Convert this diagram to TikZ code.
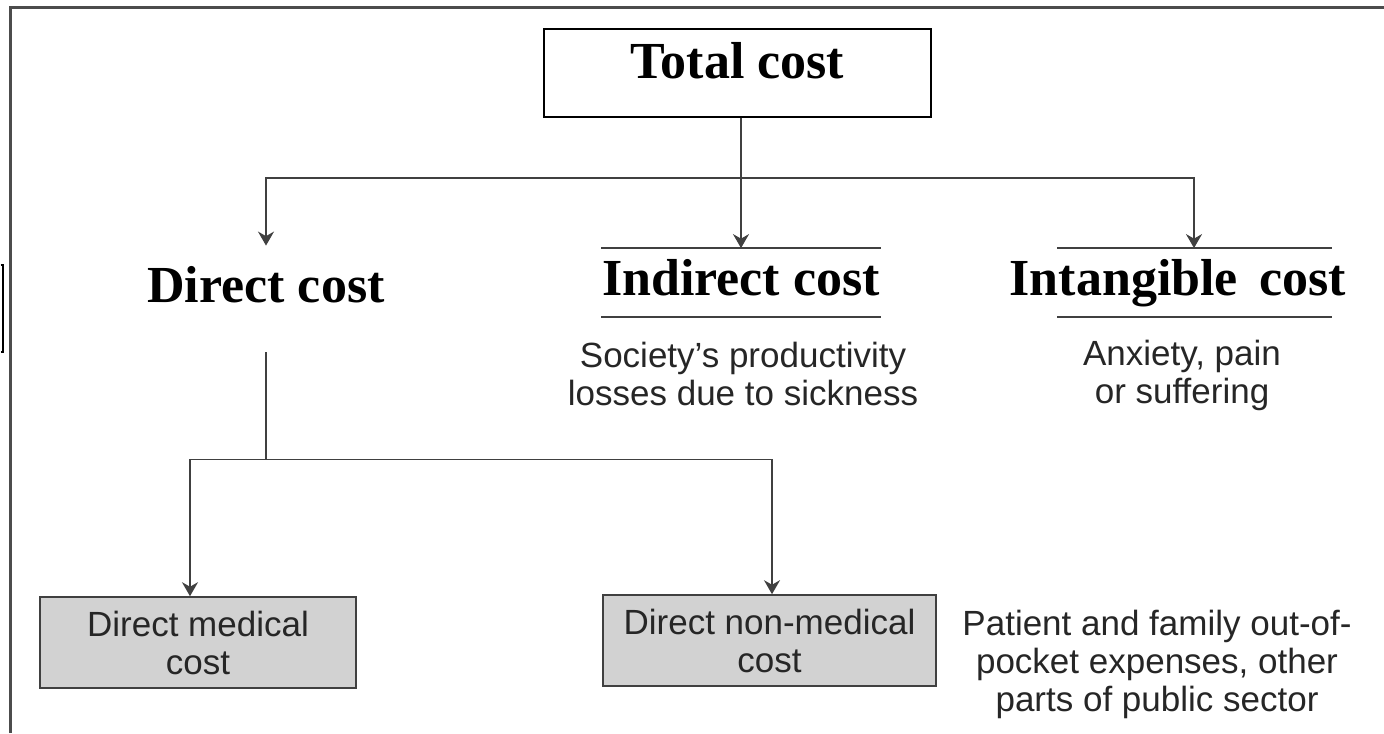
\documentclass[tikz,border=0pt]{standalone}
\usepackage{fontspec}
\setmainfont{Liberation Serif}
\setsansfont{Liberation Sans}
\usepackage{tikz}
\usetikzlibrary{shapes,arrows,arrows.meta}
\tikzstyle{totalbox} = [rectangle, draw=black, line width=0.6pt, minimum width=193.5pt, minimum height=44pt, inner sep=0pt, font=\fontsize{26}{30}\selectfont\bfseries, text depth=13pt]
\tikzstyle{heading} = [rectangle, minimum height=34pt, inner sep=0pt, font=\fontsize{26}{30}\selectfont\bfseries, text height=18pt, text depth=5pt]
\tikzstyle{desc} = [align=center, inner sep=0pt, text=black!85, font=\sffamily\fontsize{17.5}{19}\selectfont]
\tikzstyle{costbox} = [rectangle, draw=black!75, line width=0.8pt, fill=gray!35, minimum height=45.5pt, inner sep=0pt, align=center, text=black!85, font=\sffamily\fontsize{17.5}{19}\selectfont]
\tikzstyle{line} = [line width=0.9pt, draw=black!75]
\tikzstyle{arrow} = [line width=0.9pt, draw=black!75, -{Stealth[length=7pt,width=8pt]}]
\tikzstyle{frame} = [line width=1.5pt, draw=gray!60!black]

\begin{document}
\begin{tikzpicture}[node distance=100pt]
\useasboundingbox (0,0) rectangle (692pt,-366.5pt);
% frame
\draw [frame] (5pt,-366.5pt) -- (5pt,-4pt) -- (692pt,-4pt);
\draw [line width=0.6pt] (0.3pt,-132.5pt) -- (1.5pt,-132.5pt) -- (1.5pt,-176pt) -- (0.3pt,-176pt);

% nodes
\node (total) [totalbox] at (368.75pt,-36.5pt) {Total cost};

\node (indirect) [heading, minimum width=139.5pt, below of=total, node distance=104.75pt, xshift=1.75pt] {Indirect cost};
\node (direct) [heading, left of=indirect, node distance=237.5pt, yshift=-3.25pt] {Direct cost};
\node (intangible) [heading, right of=indirect, node distance=218.5pt] {Intangible\, cost};

\node (society) [desc, below of=indirect, node distance=45.5pt, xshift=1pt] {Society’s productivity\\losses due to sickness};
\node (anxiety) [desc, below of=intangible, node distance=46.5pt, xshift=2pt] {Anxiety, pain\\or suffering};

\node (medical) [costbox, minimum width=158pt, below of=direct, node distance=176.75pt, xshift=-34pt] {Direct medical\\cost};
\node (nonmed) [costbox, minimum width=166.5pt, right of=medical, node distance=285.75pt, yshift=1pt] {Direct non-medical\\cost};
\node (patient) [desc, right of=nonmed, node distance=193.75pt, yshift=-12pt] {Patient and family out-of-\\pocket expenses, other\\parts of public sector};

% rules
\draw [line, line width=0.7pt] (indirect.north west) -- (indirect.north east);
\draw [line, line width=0.7pt] (indirect.south west) -- (indirect.south east);
\draw [line, line width=0.7pt] ([xshift=-60.5pt]intangible.north) -- ([xshift=77pt]intangible.north);
\draw [line, line width=0.7pt] ([xshift=-60.5pt]intangible.south) -- ([xshift=77pt]intangible.south);

%edges
\path (total.south -| indirect.north) ++(0,-30pt) coordinate (split);
\draw [arrow] (total.south -| indirect.north) -- (indirect.north);
\draw [arrow] (split) -| ([yshift=4.5pt]direct.north);
\draw [arrow] (split) -| ([xshift=8pt]intangible.north);

\draw [line] ([yshift=-14.5pt]direct.south) -- ++(0,-53.5pt) coordinate (fork);
\draw [arrow] (fork) -| ([xshift=-4pt]medical.north);
\draw [arrow] (fork) -| ([xshift=1.25pt]nonmed.north);

\end{tikzpicture}
\end{document}
